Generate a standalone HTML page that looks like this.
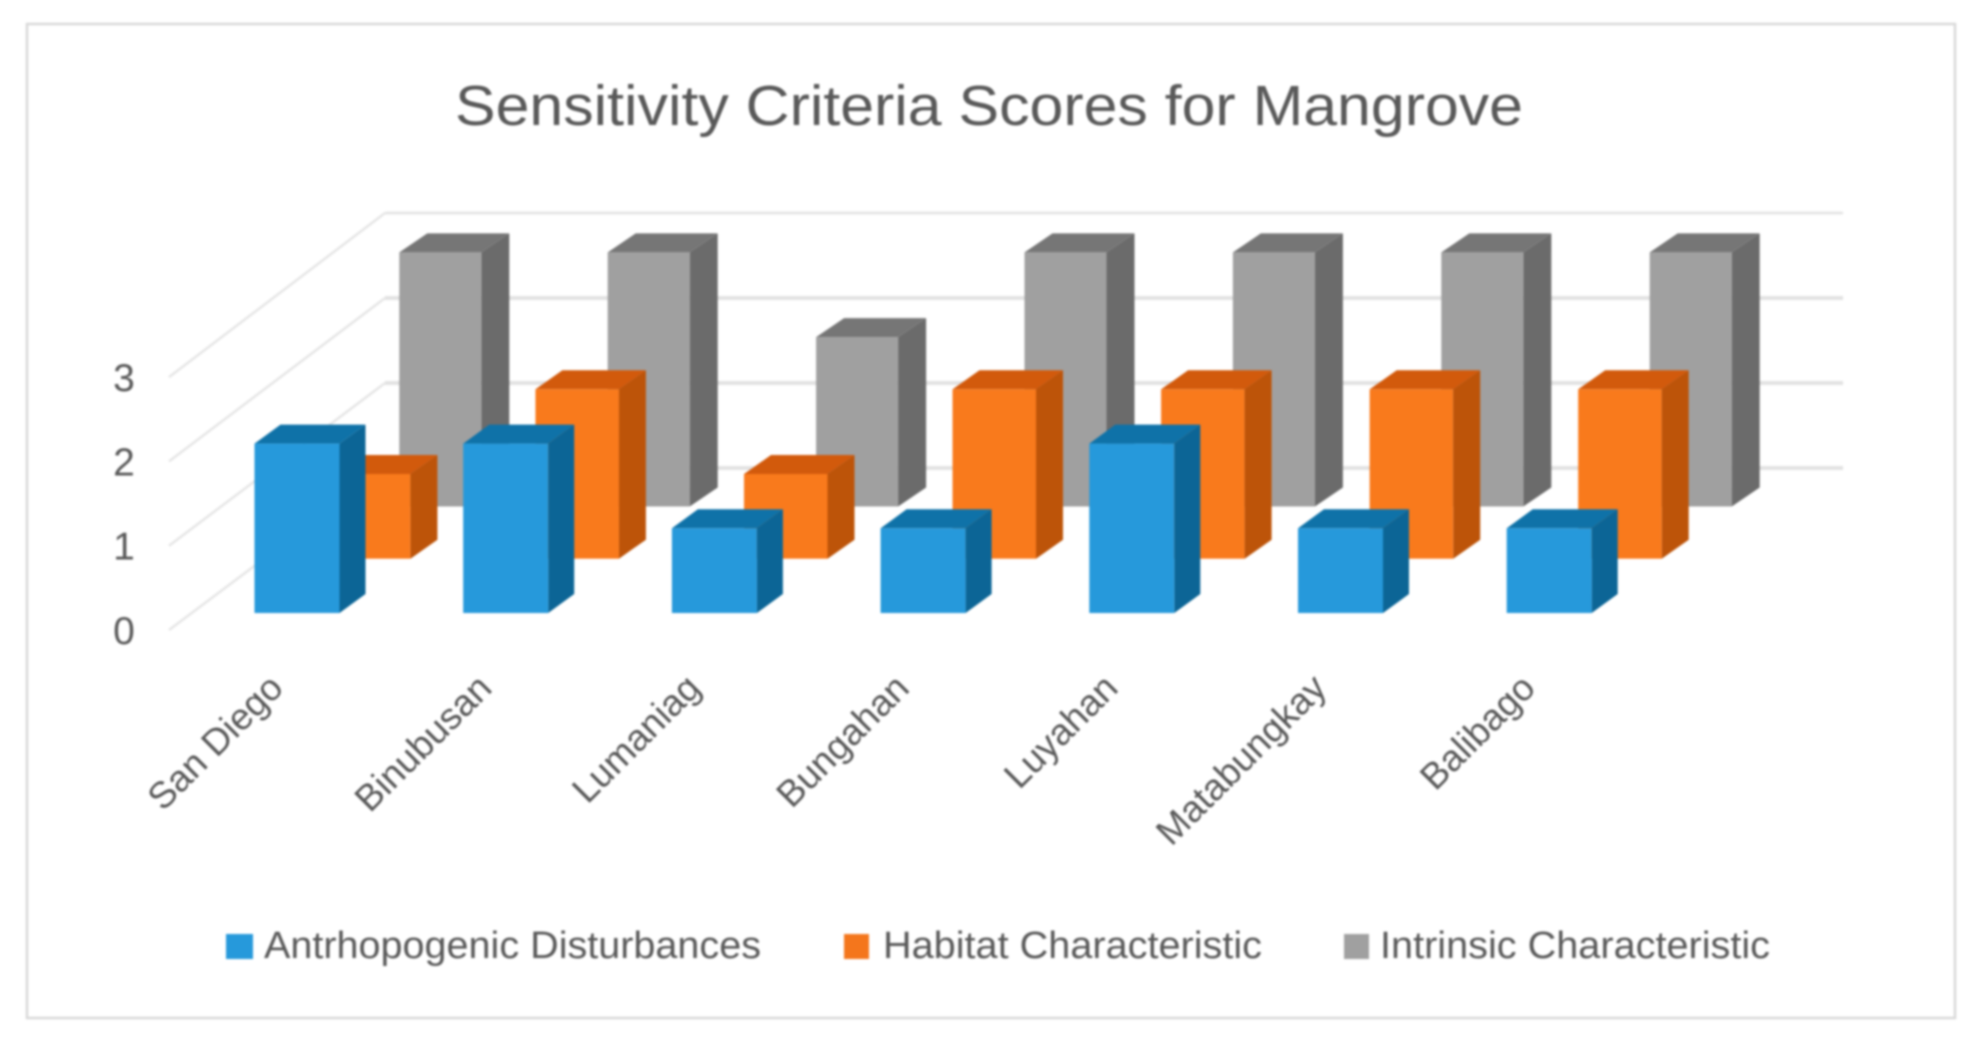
<!DOCTYPE html>
<html lang="en">
<head>
<meta charset="utf-8">
<title>Sensitivity Criteria Scores for Mangrove</title>
<style>
  html, body { margin: 0; padding: 0; background: #ffffff; }
  svg { display: block; filter: blur(1px); }
  text { font-family: "Liberation Sans", sans-serif; fill: #595959; }
</style>
</head>
<body>
<svg id="chart" xmlns="http://www.w3.org/2000/svg" width="1982" height="1048" viewBox="0 0 1982 1048">
  <rect x="0" y="0" width="1982" height="1048" fill="#ffffff"></rect>
  <rect x="27" y="24" width="1928" height="994" fill="#ffffff" stroke="#d9d9d9" stroke-width="2.5"></rect>
  <text x="455" y="125" font-size="57" textLength="1068" lengthAdjust="spacingAndGlyphs">Sensitivity Criteria Scores for Mangrove</text>
  <g id="grid"></g>
  <g id="ylabels"></g>
  <g id="bars"></g>
  <g id="xlabels"></g>
  <g>
    <g>
      <rect x="226" y="934" width="27" height="25" fill="#2699db"></rect>
      <text x="264" y="958" font-size="38" textLength="497" lengthAdjust="spacingAndGlyphs">Antrhopogenic Disturbances</text>
    </g>
    <g>
      <rect x="844" y="934" width="25" height="25" fill="#f4761c"></rect>
      <text x="883" y="958" font-size="38" textLength="379" lengthAdjust="spacingAndGlyphs">Habitat Characteristic</text>
    </g>
    <g>
      <rect x="1344" y="934" width="25" height="25" fill="#a0a0a0"></rect>
      <text x="1380" y="958" font-size="38" textLength="390" lengthAdjust="spacingAndGlyphs">Intrinsic Characteristic</text>
    </g>
  </g>
</svg>
<script>
const categories = ["San Diego", "Binubusan", "Lumaniag", "Bungahan", "Luyahan", "Matabungkay", "Balibago"];
const anthropogenic = [2, 2, 1, 1, 2, 1, 1];
const habitat = [1, 2, 1, 2, 2, 2, 2];
const intrinsic = [3, 3, 2, 3, 3, 3, 3];
const yTicks = [0, 1, 2, 3];

const NS = "http://www.w3.org/2000/svg";
const unitHeight = 84.7;

function barLeft(groupIndex, rowIndex) { return 254.5 + (208.7 - 0.15 * rowIndex) * groupIndex + 72.4 * rowIndex; }
function barFloor(rowIndex) { return 613 - 54.3 * rowIndex + rowIndex * (rowIndex - 1) * 1.05; }
function barWidth(rowIndex) { return 85 - 1.5 * rowIndex; }
function barDepthX(rowIndex) { return 26 + rowIndex; }
function valueHeight(v) { return v * unitHeight; }
function wallY(v) { return 468 - v * 85; }
function frontY(v) { return 629 - v * 84.3; }

function make(tag, attrs) {
  const el = document.createElementNS(NS, tag);
  for (const k in attrs) el.setAttribute(k, attrs[k]);
  return el;
}
function pts(list) { return list.map(p => p[0].toFixed(1) + "," + p[1].toFixed(1)).join(" "); }

const grid = document.getElementById("grid");
const ylabels = document.getElementById("ylabels");
yTicks.forEach(function (t) {
  const w = t === 3 ? 2.5 : 4;
  const side = make("line", { x1: 169, y1: frontY(t) + 1, x2: 385, y2: wallY(t), stroke: "#e6e6e6", "stroke-width": 2.5 });
  
  
  grid.appendChild(side);
  const back = make("line", { x1: 385, y1: wallY(t), x2: 1843, y2: wallY(t), stroke: "#e2e2e2", "stroke-width": w });
  
  
  grid.appendChild(back);
  const lab = make("text", { x: 124, y: frontY(t) + 15, "font-size": 39, "text-anchor": "middle" });
  
  
  lab.textContent = String(t);
  ylabels.appendChild(lab);
});

const bars = document.getElementById("bars");
function drawSeries(values, rowIndex, front, top, side, seriesName) {
  values.forEach(function (v, g) {
    const x = barLeft(g, rowIndex);
    const w = barWidth(rowIndex);
    const floor = barFloor(rowIndex);
    const h = valueHeight(v);
    const dx = barDepthX(rowIndex);
    const dy = 19;
    const y = floor - h;
    const bar = make("g", {});
    
    
    bar.appendChild(make("polygon", { points: pts([[x + w, y], [x + w + dx, y - dy], [x + w + dx, floor - dy], [x + w, floor]]), fill: side }));
    bar.appendChild(make("polygon", { points: pts([[x, y], [x + dx, y - dy], [x + w + dx, y - dy], [x + w, y]]), fill: top }));
    bar.appendChild(make("rect", { x: x, y: y, width: w, height: h, fill: front }));
    bars.appendChild(bar);
  });
}
drawSeries(intrinsic, 2, "#a0a0a0", "#767676", "#6b6b6b", "intrinsic");
drawSeries(habitat, 1, "#f97a1c", "#d25a0c", "#bd5409", "habitat");
drawSeries(anthropogenic, 0, "#2699db", "#0f72a8", "#0c6596", "anthropogenic");

const xlabels = document.getElementById("xlabels");
categories.forEach(function (name, g) {
  const ex = 285 + 208.7 * g;
  const ey = 690;
  const t = make("text", { x: ex, y: ey, "font-size": 37, "text-anchor": "end", transform: "rotate(-45 " + ex + " " + ey + ")" });
  
  
  t.textContent = name;
  xlabels.appendChild(t);
});
</script>
</body>
</html>
